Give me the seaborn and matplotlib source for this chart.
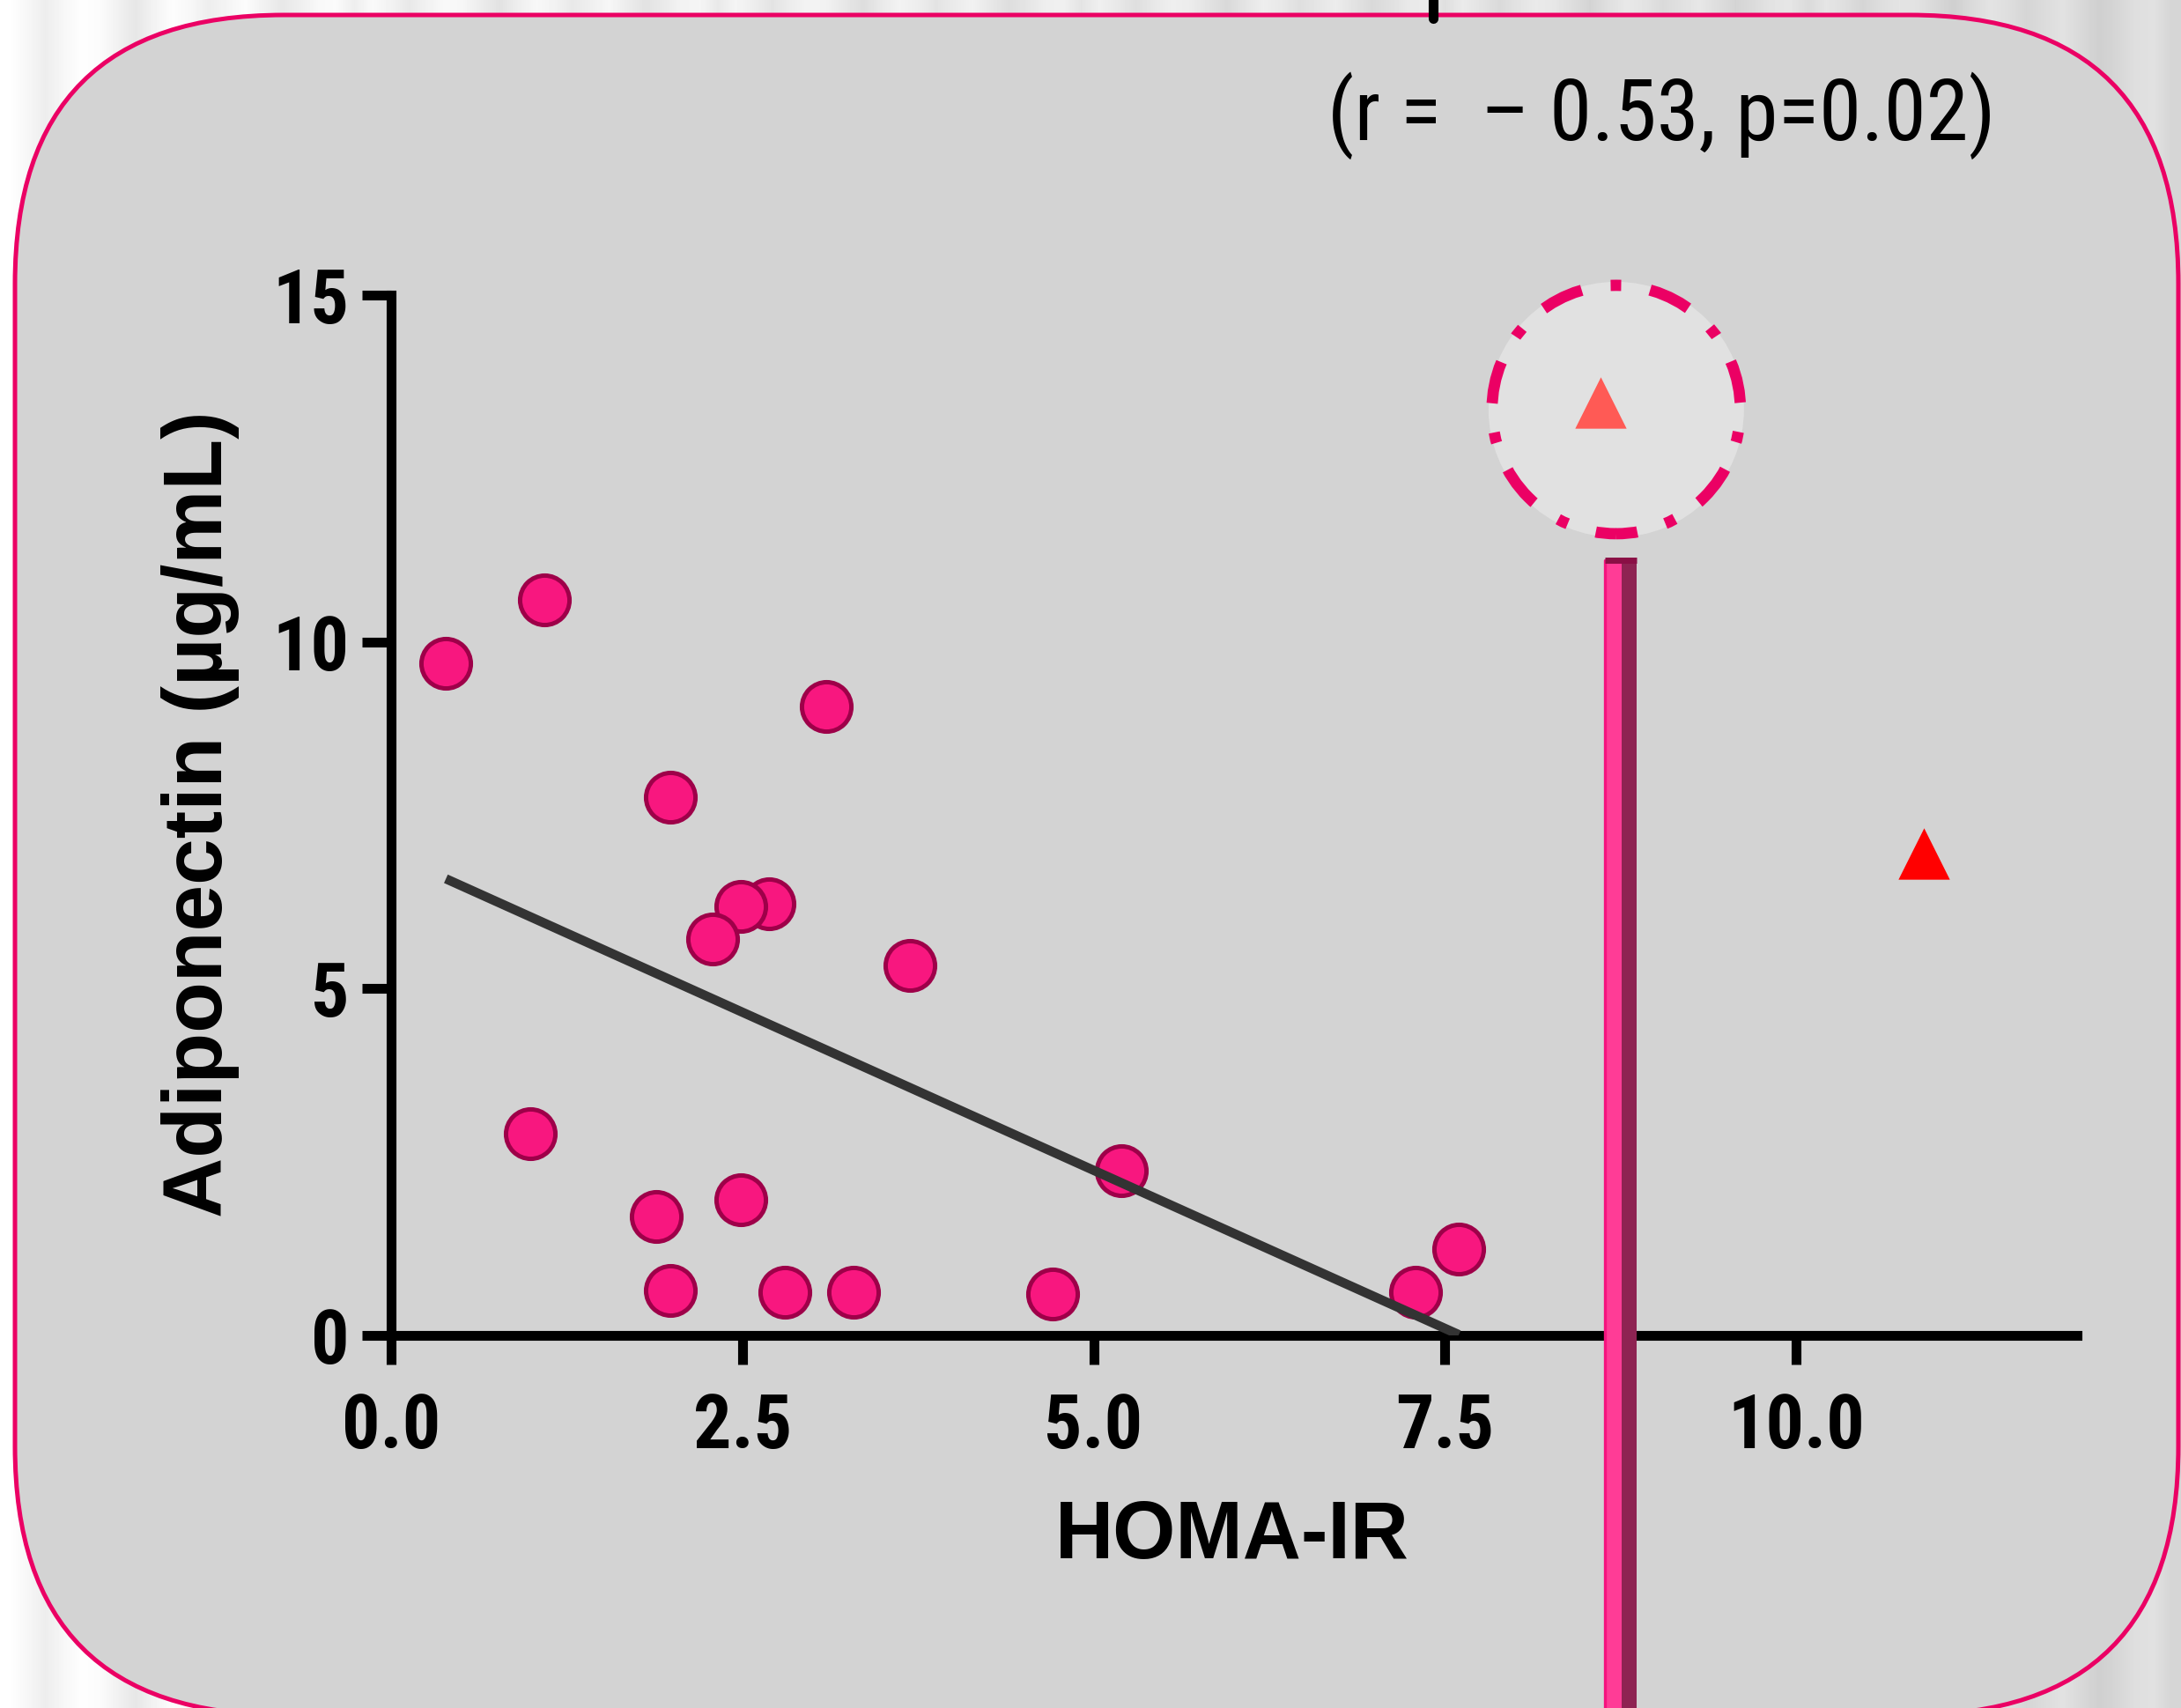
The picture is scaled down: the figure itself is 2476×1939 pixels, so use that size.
import numpy as np
import pandas as pd
import matplotlib
matplotlib.use("Agg")
import matplotlib.pyplot as plt
from matplotlib.patches import FancyBboxPatch
from matplotlib.transforms import IdentityTransform
from matplotlib.lines import Line2D
from matplotlib import font_manager
from matplotlib.font_manager import FontProperties
import seaborn as sns

# ---------------- data ----------------
homa_ir = [0.39, 1.09, 0.99, 1.99, 3.10, 2.69, 2.49, 2.29, 3.69,
           1.89, 2.49, 1.99, 2.80, 3.29, 4.71, 5.20, 7.29, 7.60]
adiponectin = [9.69, 10.60, 2.91, 7.76, 9.07, 6.22, 6.18, 5.71, 5.34,
               1.71, 1.95, 0.65, 0.62, 0.62, 0.60, 2.37, 0.62, 1.25]

highlight_x = [8.61]
highlight_y = [13.45]
outlier_x = [10.91]
outlier_y = [6.95]
callout_x = [8.72]
callout_y = [13.35]
pin_x = 8.75
pin_top = 11.18
pin_bottom = -6.0

x_ticks = [0.0, 2.5, 5.0, 7.5, 10.0]
x_tick_labels = ["0.0", "2.5", "5.0", "7.5", "10.0"]
y_ticks = [0, 5, 10, 15]
y_tick_labels = ["0", "5", "10", "15"]
x_label = "HOMA-IR"
y_label = "Adiponectin (µg/mL)"
stat_label = "(r =  – 0.53, p=0.02)"

df = pd.DataFrame({"HOMA-IR": homa_ir, "Adiponectin": adiponectin})

# ---------------- style ----------------
sns.set_style("ticks")
REG = "Liberation Sans"
plt.rcParams["font.family"] = [REG, "DejaVu Sans"]
for k in ["text.color", "axes.labelcolor", "xtick.color", "ytick.color",
          "xtick.labelcolor", "ytick.labelcolor"]:
    plt.rcParams[k] = "black"
plt.rcParams["lines.scale_dashes"] = False


def _w(f):
    w = f.weight
    if isinstance(w, str):
        w = font_manager.weight_dict.get(w, 400)
    return w


def find_narrow(bold):
    fonts = font_manager.fontManager.ttflist
    ok_w = (lambda w: w >= 600) if bold else (lambda w: 350 <= w < 600)
    pref = ["Liberation Sans Narrow", "Arial Narrow", "Roboto Condensed",
            "Noto Sans Condensed", "Open Sans Condensed", "DejaVu Sans Condensed"]
    for p in pref:
        for f in fonts:
            if f.name == p and f.style == "normal" and ok_w(_w(f)):
                return f.fname
    cond = ("condensed", "semi-condensed", "extra-condensed", "ultra-condensed")
    for base in ["Liberation Sans", "Roboto", "Noto Sans", "Open Sans", "Lato",
                 "Inter", "DejaVu Sans"]:
        for f in fonts:
            if f.name == base and str(f.stretch) in cond and f.style == "normal" \
                    and ok_w(_w(f)):
                return f.fname
    return None


narrow_bold = find_narrow(True)
narrow_reg = find_narrow(False)

if narrow_bold:
    tick_fp = FontProperties(fname=narrow_bold, size=31)
else:
    tick_fp = FontProperties(family=[REG, "DejaVu Sans"], weight="bold", size=29)
if narrow_reg:
    stat_fp = FontProperties(fname=narrow_reg, size=35)
else:
    stat_fp = FontProperties(family=[REG, "DejaVu Sans"], size=31)

W, H, DPI = 2476, 1939, 200
PT = 72 / DPI  # points per pixel
fig = plt.figure(figsize=(W / DPI, H / DPI), dpi=DPI)
fig.patch.set_facecolor("white")

# striped background
bg = fig.add_axes([0, 0, 1, 1], zorder=-10)
profile = [1.0, 0.97, 0.93, 0.97, 1.0, 0.99, 0.95, 0.91, 0.96, 1.0,
           0.98, 0.94, 0.97, 1.0, 0.96, 0.92, 0.95, 0.99, 1.0, 0.95]
stripes = np.tile(profile, 6)
shade = np.linspace(1.0, 0.88, stripes.size)
bg.imshow((stripes * shade)[np.newaxis, :], cmap="gray", vmin=0, vmax=1,
          aspect="auto", extent=[0, 1, 0, 1], interpolation="bilinear")
bg.set_axis_off()

# rounded frame
frame = FancyBboxPatch((17, -8), 2456, 1930,
                       boxstyle="round,pad=0,rounding_size=305",
                       transform=IdentityTransform(), facecolor="#D3D3D3",
                       edgecolor="#EB0064", linewidth=1.8, zorder=-5)
fig.add_artist(frame)

# little cut-off stroke at the top
fig.add_artist(Line2D([1627 / W, 1627 / W], [1.0, 1 - 21 / H],
                      transform=fig.transFigure, color="black", lw=4, zorder=1))

# ---------------- main axes ----------------
ax = fig.add_axes([444 / W, 1 - 1516 / H, (2358 - 444) / W, (1516 - 335) / H])
ax.set_facecolor("none")

sns.scatterplot(data=df, x="HOMA-IR", y="Adiponectin", ax=ax, s=408,
                color="#F8177F", edgecolor="#9E0049", linewidth=1.8,
                zorder=3, legend=False)
sns.regplot(data=df, x="HOMA-IR", y="Adiponectin", ax=ax, ci=None,
            scatter=False, truncate=True,
            line_kws=dict(color="#333333", lw=3.8, zorder=4,
                          solid_capstyle="butt"))

# callout circle: light disc + dash-dot ring
ax.scatter(callout_x, callout_y, s=(290 * PT) ** 2, marker="o",
           facecolor="#E1E1E1", edgecolor="none", linewidth=0,
           clip_on=False, zorder=5)
ax.scatter(callout_x, callout_y, s=(282 * PT) ** 2, marker="o",
           facecolor="none", edgecolor="#EB0064", linewidth=4.6,
           linestyle=(8.65, (17.3, 12.0, 4.3, 12.0)), clip_on=False, zorder=5.5)
sns.scatterplot(x=highlight_x, y=highlight_y, ax=ax, marker="^", s=441,
                color="#FF5A55", linewidth=0, zorder=6, legend=False,
                clip_on=False)
sns.scatterplot(x=outlier_x, y=outlier_y, ax=ax, marker="^", s=441,
                color="#FF0000", linewidth=0, zorder=6, legend=False)

# pin
pw = 36 / 159.5
ax.bar([pin_x - pw * 0.235], [pin_top - pin_bottom], width=pw * 0.53,
       bottom=pin_bottom, color="#FF3C96", linewidth=0, clip_on=False, zorder=7)
ax.bar([pin_x + pw * 0.265], [pin_top - pin_bottom], width=pw * 0.47,
       bottom=pin_bottom, color="#8E2352", linewidth=0, clip_on=False, zorder=7)
ax.plot([pin_x - pw / 2, pin_x - pw / 2], [pin_bottom, pin_top], color="#F5137E",
        lw=1.2, clip_on=False, zorder=8)
ax.plot([pin_x - pw / 2, pin_x + pw / 2], [pin_top, pin_top], color="#8A0F45",
        lw=2.5, solid_capstyle="butt", clip_on=False, zorder=8)

ax.set_xlim(0, 12)
ax.set_ylim(0, 15)
for s in ["top", "right"]:
    ax.spines[s].set_visible(False)
for s in ["left", "bottom"]:
    ax.spines[s].set_linewidth(4)
    ax.spines[s].set_color("black")
ax.spines["left"].set_bounds(0, 15)
ax.spines["bottom"].set_bounds(0, 12)

ax.set_xticks(x_ticks)
ax.set_xticklabels(x_tick_labels)
ax.set_yticks(y_ticks)
ax.set_yticklabels(y_tick_labels)
ax.tick_params(axis="both", direction="out", length=12, width=4, color="black",
               labelcolor="black")
ax.tick_params(axis="x", pad=11)
ax.tick_params(axis="y", pad=5)
for lab in ax.get_xticklabels() + ax.get_yticklabels():
    lab.set_fontproperties(tick_fp)
    lab.set_color("black")

ax.set_xlabel(x_label, family=[REG, "DejaVu Sans"], fontweight="bold",
              fontsize=33, color="black")
ax.set_ylabel(y_label, family=[REG, "DejaVu Sans"], fontweight="bold",
              fontsize=34, color="black")
ax.xaxis.set_label_coords(0.499, -0.1575)
ax.yaxis.set_label_coords(-0.0899, 0.501)

fig.text(1886 / W, 1 - 159 / H, stat_label, ha="center", va="baseline",
         fontproperties=stat_fp, color="black")

fig.savefig("out.png", dpi=DPI)
